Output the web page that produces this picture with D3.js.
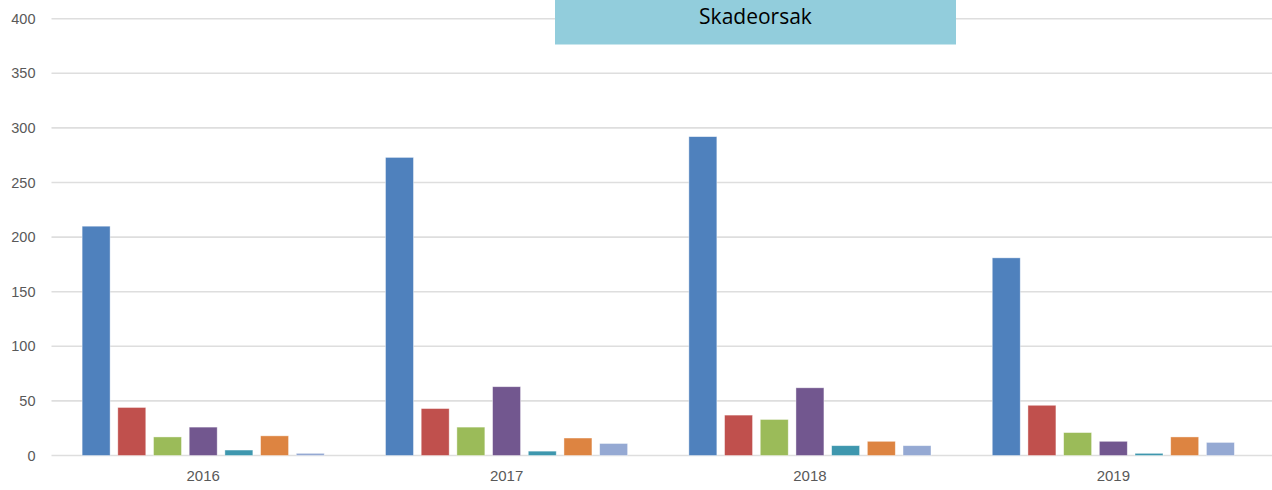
<!DOCTYPE html>
<html>
<head>
<meta charset="utf-8">
<script src="https://cdn.jsdelivr.net/npm/d3@7"></script>
<style>
  body { margin: 0; background: #fff; }
  svg { display: block; font-family: "Open Sans", "Liberation Sans", sans-serif; }
  .grid line { stroke: #dedede; stroke-width: 1.6; }
  .tick text { fill: #595959; }
</style>
</head>
<body>
<svg id="canvas" width="1272" height="490"></svg>
<script>
  // Years on the x axis
  var YEARS = ['2016', '2017', '2018', '2019'];

  // One array per cause, values by year
  var SERIES_NAMES = ['Orsak 1', 'Orsak 2', 'Orsak 3', 'Orsak 4', 'Orsak 5', 'Orsak 6', 'Orsak 7'];
  var orsak1 = [210, 273, 292, 181];
  var orsak2 = [44, 43, 37, 46];
  var orsak3 = [17, 26, 33, 21];
  var orsak4 = [26, 63, 62, 13];
  var orsak5 = [5, 4, 9, 2];
  var orsak6 = [18, 16, 13, 17];
  var orsak7 = [2, 11, 9, 12];
  var SERIES = [orsak1, orsak2, orsak3, orsak4, orsak5, orsak6, orsak7];

  var Y_TICKS = [0, 50, 100, 150, 200, 250, 300, 350, 400];
  var TITLE = 'Skadeorsak';

  var COLORS = ['#4f81bd', '#c0504d', '#9bbb59', '#72578f', '#3e97ae', '#dd8441', '#95a9d3'];

  var margin = { top: 18.7, right: 7, bottom: 34.5, left: 51.5 };
  var width = 1272, height = 490;

  var svg = d3.select('#canvas');

  var x0 = d3.scaleBand()
    .domain(YEARS)
    .range([margin.left, width - margin.right])
    .padding(0);

  var x1 = d3.scaleBand()
    .domain(SERIES_NAMES)
    .range([0, x0.bandwidth()])
    .paddingInner(0.216)
    .paddingOuter(0.858);

  var y = d3.scaleLinear()
    .domain([0, 400])
    .range([height - margin.bottom, margin.top]);

  // Gridlines run to the right edge
  svg.append('g')
    .attr('class', 'grid')
    .selectAll('line')
    .data(Y_TICKS)
    .enter()
    .append('line')
    .attr('x1', margin.left)
    .attr('x2', width)
    .attr('y1', function (d) { return y(d); })
    .attr('y2', function (d) { return y(d); });

  // Y axis labels
  var yAxis = svg.append('g')
    .attr('transform', 'translate(' + (margin.left - 16) + ',0)')
    .call(d3.axisLeft(y).tickValues(Y_TICKS).tickSize(0).tickPadding(0));
  yAxis.select('.domain').remove();
  yAxis.selectAll('text').style('font-size', '14.5px');

  // X axis labels
  var xAxis = svg.append('g')
    .attr('transform', 'translate(0,' + (height - margin.bottom + 15) + ')')
    .call(d3.axisBottom(x0).tickSize(0).tickPadding(0));
  xAxis.select('.domain').remove();
  xAxis.selectAll('text').style('font-size', '15px');

  // Bars
  var groups = svg.append('g')
    .selectAll('g')
    .data(YEARS)
    .enter()
    .append('g')
    .attr('transform', function (d) { return 'translate(' + x0(d) + ',0)'; });

  groups.selectAll('rect')
    .data(function (year, yi) {
      return SERIES.map(function (s, si) {
        return { name: SERIES_NAMES[si], value: s[yi], color: COLORS[si] };
      });
    })
    .enter()
    .append('rect')
    .attr('x', function (d) { return x1(d.name); })
    .attr('y', function (d) { return y(d.value); })
    .attr('width', x1.bandwidth())
    .attr('height', function (d) { return y(0) - y(d.value); })
    .attr('fill', function (d) { return d.color; })
    .attr('stroke', 'rgba(255,255,255,0.55)')
    .attr('stroke-width', 0.75);

  // Title box
  var boxX = 555, boxW = 401, boxH = 44.5;
  svg.append('rect')
    .attr('x', boxX)
    .attr('y', 0)
    .attr('width', boxW)
    .attr('height', boxH)
    .attr('fill', '#92cddc');

  svg.append('text')
    .attr('x', boxX + boxW / 2)
    .attr('y', 24)
    .attr('text-anchor', 'middle')
    .style('font-size', '21px')
    .style('fill', '#000')
    .text(TITLE);
</script>
</body>
</html>
